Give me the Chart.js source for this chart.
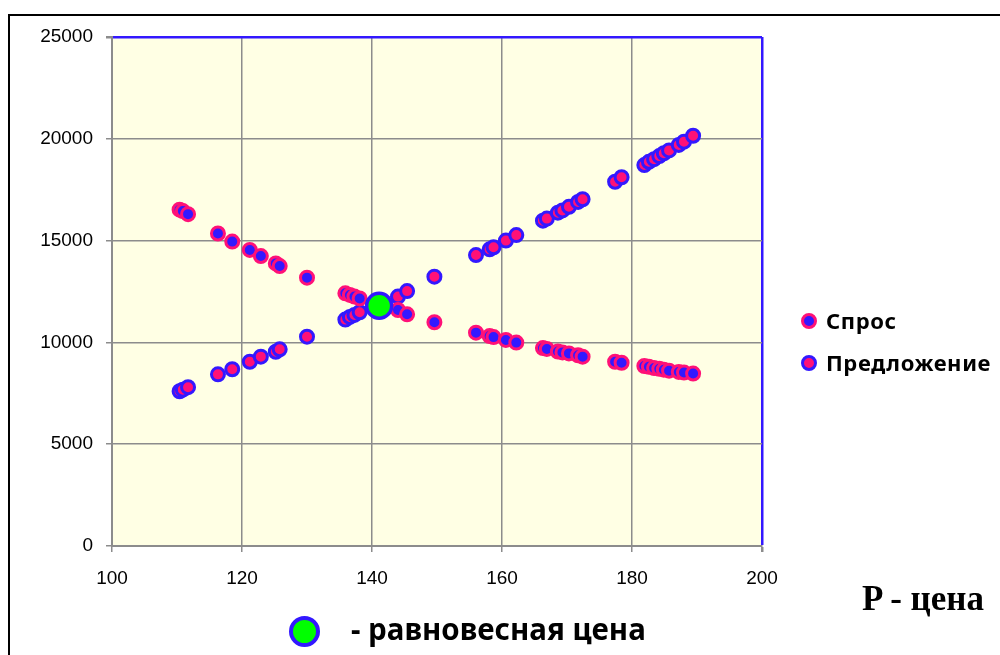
<!DOCTYPE html>
<html>
<head>
<meta charset="utf-8">
<script src="https://cdn.jsdelivr.net/npm/chart.js@4/dist/chart.umd.min.js"></script>
<style>
  html, body { margin: 0; padding: 0; background: #ffffff; }
  #wrap { position: relative; width: 1000px; height: 655px; overflow: hidden; }
  #frame { position: absolute; left: 8px; top: 14px; width: 1100px; height: 800px;
           border-top: 2px solid #000; border-left: 2px solid #000; box-sizing: border-box; }
  canvas { position: absolute; left: 0; top: 0; }
  .lbl { position: absolute; white-space: nowrap; color: #000; }
  .leg { font-family: "Noto Sans", sans-serif; font-weight: bold; font-size: 22px; line-height: 26px; letter-spacing: 0.6px; }
  .dot { position: absolute; border-radius: 50%; box-sizing: border-box; }
</style>
</head>
<body>
<div id="wrap">
  <div id="frame"></div>
  <canvas id="c" width="1000" height="655"></canvas>

  <div class="dot" style="left:801px; top:313px; width:16px; height:16px; background:#3318FF; border:3px solid #FF1177;"></div>
  <div class="lbl leg" style="left:826px; top:307px;">Спрос</div>
  <div class="dot" style="left:801px; top:355px; width:16px; height:16px; background:#FF1177; border:3px solid #3318FF;"></div>
  <div class="lbl leg" style="left:826px; top:349px;">Предложение</div>

  <div class="lbl" style="left:862px; top:580px; font-family:'Liberation Serif', serif; font-weight:bold; font-size:35px; line-height:38px;">P - цена</div>

  <div class="dot" style="left:289px; top:616px; width:31px; height:31px; background:#00FF00; border:4px solid #3318FF;"></div>
  <div class="lbl" style="left:351px; top:610px; font-family:'Noto Sans', sans-serif; font-weight:bold; font-size:29.5px; line-height:38px;">- равновесная цена</div>
</div>

<script>
// Price points (x) shared by both curves
const prices = [110.4, 110.9, 111.7, 116.3, 118.5, 121.2, 122.9, 125.2, 125.8, 130.0,
                135.9, 136.6, 137.3, 138.1, 144.0, 145.4, 149.6, 156.0, 158.1, 158.7,
                160.6, 162.2, 166.3, 166.9, 168.6, 169.3, 170.3, 171.7, 172.4, 177.4,
                178.4, 181.9, 182.6, 183.4, 184.2, 184.9, 185.7, 187.2, 188.0, 189.4];

// Quantity demanded at each price
const demand = [16520, 16450, 16300, 15350, 14950, 14540, 14240, 13880, 13750, 13180,
                12410, 12330, 12250, 12160, 11590, 11380, 10990, 10480, 10310, 10260,
                10120, 9990, 9720, 9680, 9550, 9510, 9460, 9370, 9300, 9050,
                9000, 8840, 8800, 8740, 8700, 8660, 8610, 8550, 8520, 8470];

// Quantity supplied at each price
const supply = [7600, 7680, 7800, 8430, 8680, 9050, 9300, 9540, 9660, 10280,
                11120, 11250, 11350, 11480, 12250, 12520, 13230, 14290, 14570, 14670,
                15000, 15270, 15980, 16080, 16370, 16480, 16660, 16900, 17030, 17890,
                18110, 18710, 18870, 19000, 19150, 19290, 19430, 19700, 19860, 20150];

// Equilibrium point
const eqPrice = [141.1];
const eqQty = [11800];

// Axis tick values
const xTicks = [100, 120, 140, 160, 180, 200];
const yTicks = [0, 5000, 10000, 15000, 20000, 25000];

const PINK = '#FF1177';
const BLUE = '#3318FF';
const GREEN = '#00FF00';
const GRID = '#8C8C8C';

const toXY = (xs, ys) => xs.map((x, i) => ({ x: x, y: ys[i] }));

// Pale yellow fill behind the plot area
const plotBg = {
  id: 'plotBg',
  beforeDraw(chart) {
    const { ctx, chartArea: a } = chart;
    ctx.save();
    ctx.fillStyle = '#FFFFE4';
    ctx.fillRect(a.left, a.top, a.right - a.left, a.bottom - a.top);
    ctx.restore();
  }
};

const tickFont = { family: "'Liberation Sans', Arial, sans-serif", size: 19 };

new Chart(document.getElementById('c'), {
  type: 'scatter',
  data: {
    datasets: [
      {
        label: 'равновесная цена',
        data: toXY(eqPrice, eqQty),
        backgroundColor: GREEN,
        borderColor: BLUE,
        pointRadius: 12.5,
        borderWidth: 3.5,
        order: 0
      },
      {
        label: 'Предложение',
        data: toXY(prices, supply),
        backgroundColor: PINK,
        borderColor: BLUE,
        pointRadius: 6.5,
        borderWidth: 3,
        order: 2
      },
      {
        label: 'Спрос',
        data: toXY(prices, demand),
        backgroundColor: BLUE,
        borderColor: PINK,
        pointRadius: 6.5,
        borderWidth: 3,
        order: 1
      }
    ]
  },
  options: {
    responsive: false,
    animation: false,
    events: [],
    layout: { padding: { left: 0, top: 37, right: 238, bottom: 0 } },
    plugins: { legend: { display: false }, tooltip: { enabled: false } },
    scales: {
      x: {
        type: 'linear',
        min: 100, max: 200,
        afterBuildTicks: s => { s.ticks = xTicks.map(v => ({ value: v })); },
        afterFit: s => { s.height = 109; },
        ticks: { color: '#000', font: tickFont, padding: 15, maxRotation: 0,
                 callback: v => String(v) },
        grid: {
          color: c => (c.tick && c.tick.value === 200) ? BLUE : GRID,
          lineWidth: c => (c.tick && c.tick.value === 200) ? 2.5 : 1.5,
          tickColor: GRID,
          tickLength: 6
        },
        border: { color: GRID, width: 2 }
      },
      y: {
        type: 'linear',
        min: 0, max: 25000,
        afterBuildTicks: s => { s.ticks = yTicks.map(v => ({ value: v })); },
        afterFit: s => { s.width = 112; },
        ticks: { color: '#000', font: tickFont, padding: 13,
                 callback: v => String(v) },
        grid: {
          color: c => (c.tick && c.tick.value === 25000) ? BLUE : GRID,
          lineWidth: c => (c.tick && c.tick.value === 25000) ? 2.5 : 1.5,
          tickColor: GRID,
          tickLength: 6
        },
        border: { color: GRID, width: 2 }
      }
    }
  },
  plugins: [plotBg]
});
</script>
</body>
</html>
